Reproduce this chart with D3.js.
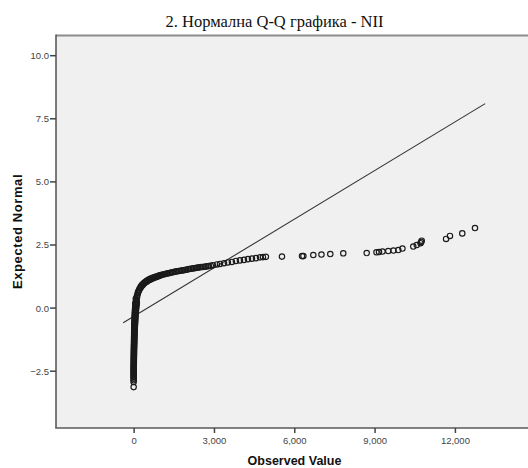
<!DOCTYPE html>
<html>
<head>
<meta charset="utf-8">
<script src="https://cdn.jsdelivr.net/npm/d3@7"></script>
<style>
  html, body { margin: 0; padding: 0; background: #ffffff; }
  svg { display: block; }
</style>
</head>
<body>
<svg id="chart" width="528" height="468"></svg>
<script>
// Q-Q chart data
const observedValues = [
  // near-zero column
  0, 0, 0, 0, 2, 2, 3, 3, 4, 5, 5, 6, 6, 7, 8, 8, 9, 10, 10, 11, 12, 13, 14, 15,
  16, 17, 18, 19, 20, 22, 23, 25, 27, 29, 31, 33, 36, 39, 42, 46, 50, 55, 61, 68, 76, 86,
  // column, in-between points
  1, 1, 2, 3, 3, 4, 5, 6, 7, 8, 9, 10, 11, 12, 13, 14, 15, 17, 18, 20, 22, 24,
  26, 28, 30, 33, 36, 39, 42, 46, 50, 54, 58, 62, 66, 70, 75, 80, 86, 92, 98, 105, 112, 120,
  // bend
  60, 80, 120, 160, 210, 270, 350, 430, 520, 620, 740, 850, 960,
  // dense ribbon
  105, 140, 180, 235, 310, 385, 480, 570, 685, 795, 910, 1020, 1130, 1245, 1355, 1470,
  1580, 1690, 1805, 1915, 2030, 2140, 2255, 2365, 2475, 2590, 2700, 2810, 2960, 3110,
  3225, 3375, 3520, 3670, 3820, 3970, 4120, 4270, 4420, 4570, 4720, 4830, 4940,
  // ribbon, lower edge
  125, 160, 200, 250, 290, 340, 400, 450, 500, 550, 600, 650, 710, 770, 830, 880, 940,
  990, 1070, 1180, 1290, 1400, 1520, 1630, 1750, 1860, 1970, 2080, 2200, 2310, 2420,
  2530, 2650, 2760, 2880,
  // sparse tail
  5540, 6290, 6340, 6710, 7015, 7345, 7830, 8705, 9070, 9165, 9295, 9510, 9705, 9885,
  10040, 10445, 10575, 10715, 10740, 10760, 11670, 11815, 12275, 12750
];

const expectedNormal = [
  -3.15, -2.95, -2.82, -2.72, -2.63, -2.55, -2.48, -2.41, -2.34, -2.27, -2.20, -2.13,
  -2.06, -1.99, -1.92, -1.85, -1.78, -1.71, -1.64, -1.57, -1.50, -1.43, -1.36, -1.29,
  -1.22, -1.15, -1.08, -1.01, -0.94, -0.87, -0.80, -0.73, -0.66, -0.59, -0.52, -0.45,
  -0.38, -0.31, -0.24, -0.17, -0.10, -0.03, 0.04, 0.11, 0.18, 0.25,
  -2.88, -2.77, -2.68, -2.59, -2.51, -2.44, -2.37, -2.30, -2.23, -2.16, -2.09, -2.02,
  -1.95, -1.88, -1.81, -1.74, -1.67, -1.60, -1.53, -1.46, -1.39, -1.32, -1.25, -1.18,
  -1.11, -1.04, -0.97, -0.90, -0.83, -0.76, -0.69, -0.62, -0.55, -0.48, -0.41, -0.34,
  -0.27, -0.20, -0.13, -0.06, 0.01, 0.08, 0.14, 0.21,
  0.15, 0.35, 0.45, 0.60, 0.72, 0.83, 0.93, 1.01, 1.08, 1.14, 1.19, 1.23, 1.27,
  0.30, 0.50, 0.65, 0.77, 0.89, 0.97, 1.05, 1.11, 1.17, 1.21, 1.25, 1.29, 1.32, 1.35,
  1.37, 1.40, 1.43, 1.45, 1.47, 1.49, 1.52, 1.54, 1.56, 1.58, 1.60, 1.61, 1.63, 1.65,
  1.68, 1.71, 1.73, 1.76, 1.79, 1.81, 1.85, 1.87, 1.89, 1.92, 1.94, 1.96, 1.99, 2.00, 2.01,
  0.40, 0.57, 0.68, 0.78, 0.84, 0.90, 0.96, 1.00, 1.03, 1.07, 1.10, 1.12, 1.15, 1.18,
  1.20, 1.22, 1.25, 1.27, 1.30, 1.33, 1.36, 1.39, 1.42, 1.44, 1.46, 1.48, 1.50, 1.53,
  1.55, 1.57, 1.59, 1.61, 1.62, 1.64, 1.66,
  2.02, 2.04, 2.04, 2.08, 2.10, 2.12, 2.15, 2.16, 2.19, 2.20, 2.22, 2.24, 2.26, 2.28,
  2.34, 2.42, 2.48, 2.55, 2.60, 2.65, 2.72, 2.84, 2.94, 3.15
];

// reference line end points (observed, expected)
const refLineX = [-390, 13130];
const refLineY = [-0.60, 8.08];

// tick labels
const xTicks = [0, 3000, 6000, 9000, 12000];
const yTicks = [-2.5, 0, 2.5, 5, 7.5, 10];

const titleText = '2. Нормална Q-Q графика - NII';
const xLabel = 'Observed Value';
const yLabel = 'Expected Normal';

function drawQQChart() {
  const svg = d3.select('#chart');
  if (svg.empty()) {
    console.error('Error: SVG element not found.');
    return;
  }

  // plot frame bounds
  const left = 56, right = 529, top = 35.5, bottom = 428;

  const x = d3.scaleLinear().domain([-2900, 14730]).range([left, 528]);
  const y = d3.scaleLinear().domain([-4.77, 10.78]).range([bottom, top]);

  // plot background
  svg.append('rect')
    .attr('x', left).attr('y', top)
    .attr('width', right - left).attr('height', bottom - top)
    .attr('fill', '#f0f0f0');

  // frame: top lighter, left & bottom darker
  svg.append('line')
    .attr('x1', left).attr('x2', right).attr('y1', top).attr('y2', top)
    .attr('stroke', '#8c8c8c').attr('stroke-width', 2);
  svg.append('line')
    .attr('x1', left).attr('x2', left).attr('y1', top - 1).attr('y2', bottom)
    .attr('stroke', '#5a5a5a').attr('stroke-width', 1.6);
  svg.append('line')
    .attr('x1', left - 0.8).attr('x2', right).attr('y1', bottom).attr('y2', bottom)
    .attr('stroke', '#5a5a5a').attr('stroke-width', 1.6);

  // axes
  const xAxis = svg.append('g')
    .attr('transform', `translate(0,${bottom})`)
    .call(d3.axisBottom(x).tickValues(xTicks).tickFormat(d3.format(',')).tickSize(5).tickPadding(4));
  const yAxis = svg.append('g')
    .attr('transform', `translate(${left},0)`)
    .call(d3.axisLeft(y).tickValues(yTicks).tickFormat(d3.format('.1f')).tickSize(6).tickPadding(1));

  [xAxis, yAxis].forEach(g => {
    g.select('.domain').remove();
    g.selectAll('line').attr('stroke', '#444').attr('stroke-width', 1.5);
    g.selectAll('text')
      .attr('fill', '#444')
      .style('font-family', '"Liberation Sans", Arial, sans-serif')
      .style('font-size', '9.5px');
  });
  yAxis.selectAll('text').attr('dy', '0.36em');

  // reference line
  svg.append('line')
    .attr('x1', x(refLineX[0])).attr('y1', y(refLineY[0]))
    .attr('x2', x(refLineX[1])).attr('y2', y(refLineY[1]))
    .attr('stroke', '#333').attr('stroke-width', 1.1);

  // points
  const points = observedValues.map((v, i) => ({ obs: v, exp: expectedNormal[i] }));
  svg.append('g')
    .selectAll('circle')
    .data(points)
    .enter().append('circle')
      .attr('cx', d => x(d.obs))
      .attr('cy', d => y(d.exp))
      .attr('r', 2.7)
      .attr('fill', 'none')
      .attr('stroke', '#1a1a1a')
      .attr('stroke-width', 1.15);

  // title
  svg.append('text')
    .attr('x', 274.5).attr('y', 27)
    .attr('text-anchor', 'middle')
    .style('font-family', '"Liberation Serif", "Times New Roman", serif')
    .style('font-size', '16.5px')
    .attr('fill', '#111')
    .text(titleText);

  // axis titles
  svg.append('text')
    .attr('x', 294.5).attr('y', 465)
    .attr('text-anchor', 'middle')
    .style('font-family', '"Liberation Sans", Arial, sans-serif')
    .style('font-size', '12.5px').style('font-weight', 'bold')
    .attr('fill', '#111')
    .text(xLabel);

  svg.append('text')
    .attr('transform', 'translate(22,231.5) rotate(-90)')
    .attr('text-anchor', 'middle')
    .style('font-family', '"Liberation Sans", Arial, sans-serif')
    .style('font-size', '13px').style('font-weight', 'bold')
    .style('letter-spacing', '0.6px')
    .attr('fill', '#111')
    .text(yLabel);
}

drawQQChart();
</script>
</body>
</html>
